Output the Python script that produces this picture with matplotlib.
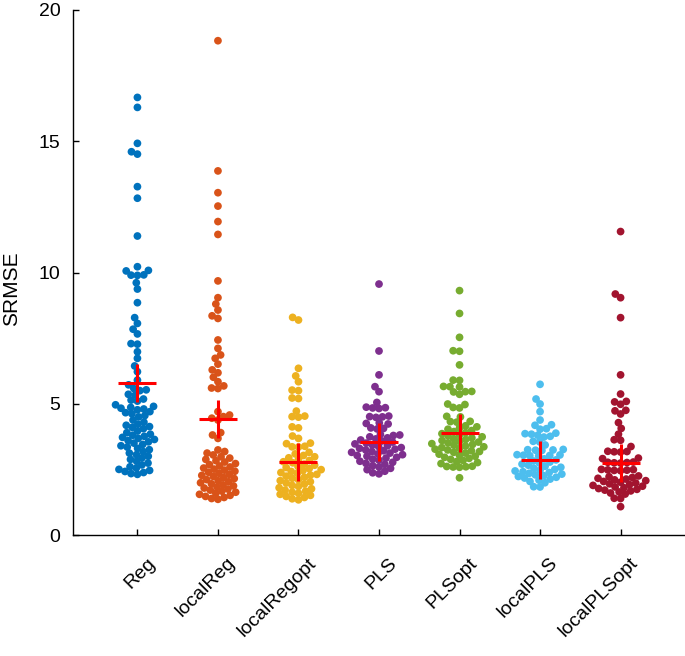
import numpy as np
import matplotlib
matplotlib.use("Agg")
import matplotlib.pyplot as plt
from matplotlib.transforms import ScaledTranslation

plt.rcParams['font.family'] = ['Liberation Sans', 'DejaVu Sans']

categories = ["Reg", "localReg", "localRegopt", "PLS", "PLSopt", "localPLS", "localPLSopt"]
colors = ["#0072BD", "#D95319", "#EDB120", "#7E2F8E", "#77AC30", "#4DBEEE", "#A2142F"]

reg = [16.67, 16.29, 14.92, 14.60, 14.51, 13.27, 12.83, 11.39, 10.22, 10.08, 10.06, 9.91, 9.90, 9.89,
       9.61, 9.37, 8.85, 8.28, 8.06, 7.84, 7.66, 7.29, 7.27, 6.98, 6.73, 6.44, 6.22, 5.90, 5.72, 5.58,
       5.53, 5.50, 5.36, 5.33, 5.18, 5.14, 5.10, 4.96, 4.90, 4.86, 4.83, 4.80, 4.77, 4.70, 4.66, 4.62,
       4.55, 4.50, 4.38, 4.30, 4.22, 4.18, 4.13, 4.10, 4.05, 3.96, 3.90, 3.84, 3.80, 3.76,
       3.72, 3.68, 3.64, 3.60, 3.55, 3.50, 3.45, 3.40, 3.35, 3.30, 3.25, 3.18, 3.12,
       3.06, 3.00, 2.94, 2.88, 2.81, 2.74, 2.67, 2.60, 2.55, 2.50, 2.46, 2.42, 2.38,
       2.34, 2.31]
local_reg = [18.83, 13.87, 13.04, 12.53, 11.94, 11.45, 9.68, 9.04, 8.80, 8.57, 8.35, 8.25, 7.43, 7.11,
             6.86, 6.73, 6.51, 6.29, 6.18, 6.01, 5.84, 5.68, 5.60, 5.58, 4.70, 4.57, 4.51, 4.45, 4.38,
             3.90, 3.81, 3.68, 3.24, 3.18, 3.12, 3.05, 2.98, 2.93, 2.88, 2.83, 2.78, 2.72,
             2.68, 2.63, 2.59, 2.55, 2.51, 2.47, 2.43, 2.39, 2.35, 2.31, 2.27, 2.23,
             2.19, 2.15, 2.11, 2.07, 2.03, 1.99, 1.95, 1.91, 1.87, 1.83, 1.79, 1.75,
             1.71, 1.67, 1.63, 1.59, 1.55, 1.51, 1.47, 1.43, 1.39, 1.36]
local_regopt = [8.29, 8.19, 6.35, 6.06, 5.84, 5.52, 5.50, 5.22, 5.20, 4.72, 4.53, 4.51, 4.49, 4.12,
                4.08, 3.77, 3.68, 3.50, 3.48, 3.38, 3.36, 3.35, 3.15, 3.09, 3.03, 2.98, 2.94, 2.88,
                2.84, 2.79, 2.75, 2.70, 2.66, 2.61, 2.57, 2.53, 2.49, 2.46, 2.42, 2.38, 2.35, 2.31,
                2.28, 2.24, 2.20, 2.16, 2.11, 2.07, 2.03, 1.98, 1.94, 1.89, 1.85, 1.80, 1.76, 1.71,
                1.67, 1.63, 1.59, 1.55, 1.51, 1.47, 1.43, 1.38, 1.34]
pls = [9.56, 7.01, 6.10, 5.65, 5.46, 5.05, 4.87, 4.85, 4.84, 4.82, 4.53, 4.51, 4.50, 4.48, 4.27,
       4.25, 4.23, 4.08, 4.06, 4.04, 3.83, 3.81, 3.79, 3.74, 3.70, 3.66, 3.62, 3.58, 3.54,
       3.50, 3.47, 3.43, 3.40, 3.37, 3.33, 3.30, 3.27, 3.24, 3.21, 3.18, 3.15,
       3.12, 3.09, 3.06, 3.03, 3.00, 2.96, 2.93, 2.89, 2.85, 2.81, 2.77,
       2.73, 2.69, 2.64, 2.59, 2.54, 2.49, 2.43, 2.37, 2.33]
pls_opt = [9.31, 8.44, 7.53, 7.02, 7.00, 6.48, 5.90, 5.89, 5.66, 5.65, 5.64, 5.47, 5.46, 5.45, 5.36,
           4.99, 4.97, 4.86, 4.84, 4.52, 4.50, 4.33, 4.32, 4.30, 4.16, 4.12, 4.08, 4.03, 3.98,
           3.94, 3.90, 3.86, 3.82, 3.78, 3.74, 3.70, 3.67, 3.64, 3.60, 3.57, 3.54, 3.51,
           3.48, 3.45, 3.42, 3.39, 3.36, 3.33, 3.30, 3.27, 3.24, 3.21, 3.18, 3.15, 3.12,
           3.08, 3.04, 3.00, 2.96, 2.92, 2.88, 2.84, 2.80, 2.76, 2.72, 2.62, 2.61,
           2.60, 2.59, 2.58, 2.18]
local_pls = [5.74, 5.18, 4.99, 4.70, 4.38, 4.20, 4.18, 4.05, 4.03, 3.88, 3.86, 3.84, 3.80, 3.76,
             3.73, 3.57, 3.55, 3.43, 3.26, 3.25, 3.24, 3.23, 3.22, 3.06, 3.05, 3.04, 3.03, 3.02,
             3.01, 2.90, 2.86, 2.82, 2.78, 2.74, 2.70, 2.66, 2.62, 2.58, 2.54, 2.50, 2.47,
             2.44, 2.41, 2.38, 2.35, 2.32, 2.29, 2.26, 2.23, 2.20, 2.17, 2.13, 2.09, 2.04,
             1.99, 1.84, 1.83]
local_pls_opt = [11.56, 9.18, 9.04, 8.28, 6.10, 5.37, 5.09, 5.07, 4.98, 4.75, 4.73, 4.61, 4.28,
                 4.06, 3.84, 3.63, 3.61, 3.37, 3.19, 3.18, 3.17, 3.16, 2.93, 2.91, 2.78, 2.77,
                 2.76, 2.75, 2.74, 2.50, 2.49, 2.48, 2.47, 2.46, 2.45, 2.25, 2.22,
                 2.19, 2.16, 2.13, 2.10, 2.07, 2.04, 2.01, 1.98, 1.95, 1.92, 1.89, 1.86,
                 1.83, 1.80, 1.77, 1.74, 1.71, 1.68, 1.64, 1.60, 1.56, 1.40, 1.39, 1.08]
groups = [reg, local_reg, local_regopt, pls, pls_opt, local_pls, local_pls_opt]
means = [5.78, 4.42, 2.79, 3.56, 3.87, 2.86, 2.76]

W, H, DPI = 685, 656, 100
fig = plt.figure(figsize=(W / DPI, H / DPI), dpi=DPI)
ax = fig.add_axes([73 / W, 121 / H, 612 / W, 525 / H])
xlim = (0.2, 7.8)
ylim = (0, 20)
ax.set_xlim(*xlim)
ax.set_ylim(*ylim)

px_x = 612 / (xlim[1] - xlim[0])
px_y = 525 / (ylim[1] - ylim[0])
d = 6.4  # spacing in px


def swarm(vals):
    ys = np.array(vals) * px_y
    order = np.argsort(ys)
    offs = np.zeros(len(ys))
    placed = []
    for i in order:
        y = ys[i]
        nb = [(px, py) for px, py in placed if abs(py - y) < d]
        cands = [0.0]
        for px, py in nb:
            dx = np.sqrt(max(d * d - (y - py) ** 2, 0))
            cands += [px + dx, px - dx]
        cands = sorted(cands, key=lambda c: (abs(c), c))
        for c in cands:
            if all((c - px) ** 2 + (y - py) ** 2 >= d * d - 1e-6 for px, py in nb):
                offs[i] = c
                break
        placed.append((offs[i], y))
    return offs / px_x


for k, (vals, col) in enumerate(zip(groups, colors)):
    xo = swarm(vals)
    ax.scatter(k + 1 + xo, vals, s=31, color=col, edgecolors='none', zorder=2)
    ax.plot([k + 1], [means[k]], marker='+', color='#FF0000', markersize=27,
            markeredgewidth=2.2, zorder=3)

for s in ['top', 'right']:
    ax.spines[s].set_visible(False)
for s in ['left', 'bottom']:
    ax.spines[s].set_linewidth(1.0)

ax.set_yticks([0, 5, 10, 15, 20])
ax.set_xticks(range(1, 8))
ax.set_xticklabels(categories, rotation=45, ha='right', va='top')
ax.tick_params(axis='both', direction='in', length=4, width=1.0, labelsize=14)
ax.tick_params(axis='y', pad=9)
ax.tick_params(axis='x', pad=14)
for lab in ax.get_xticklabels():
    lab.set_transform(lab.get_transform() + ScaledTranslation(0.21, 0, fig.dpi_scale_trans))

ax.set_ylabel("SRMSE", fontsize=15)
ax.yaxis.set_label_coords(-0.085, 0.47)

fig.savefig("out.png", dpi=DPI)
